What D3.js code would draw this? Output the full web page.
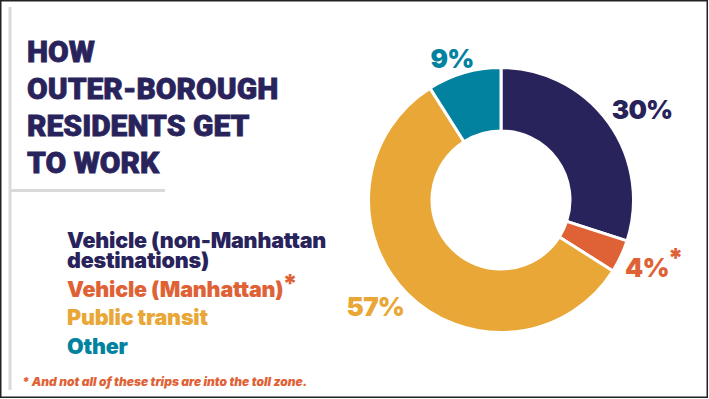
<!DOCTYPE html>
<html>
<head>
<meta charset="utf-8">
<script src="https://cdn.jsdelivr.net/npm/d3@7"></script>
<style>
  body { margin: 0; background: #fff; }
  svg { display: block; }
</style>
</head>
<body>
<script>
// Data
var categories = ["Vehicle (non-Manhattan destinations)", "Vehicle (Manhattan)", "Public transit", "Other"];
var shares = [30, 4, 57, 9];
var labelTexts = ["30%", "4%", "57%", "9%"];
var legendLines = [["Vehicle (non-Manhattan", "destinations)"], ["Vehicle (Manhattan)"], ["Public transit"], ["Other"]];
var titleLines = ["HOW", "OUTER-BOROUGH", "RESIDENTS GET", "TO WORK"];
var footnote = "* And not all of these trips are into the toll zone.";

var colors = ["#29235c", "#df6236", "#e8a736", "#02829f"];
var width = 709, height = 399;
var bodyFont = "Inter, 'Open Sans', sans-serif";

var svg = d3.select("body").append("svg")
    .attr("width", width)
    .attr("height", height);

// frame
svg.append("rect")
    .attr("x", 0.75).attr("y", 0.75)
    .attr("width", width - 2.5).attr("height", height - 2.5)
    .attr("fill", "#fff")
    .attr("stroke", "#222")
    .attr("stroke-width", 1.5);

// grey rules
svg.append("line")
    .attr("x1", 10).attr("y1", 7).attr("x2", 10).attr("y2", 390)
    .attr("stroke", "#d9d9d9").attr("stroke-width", 3);
svg.append("line")
    .attr("x1", 10).attr("y1", 190.5).attr("x2", 165).attr("y2", 190.5)
    .attr("stroke", "#d9d9d9").attr("stroke-width", 3);

// Title
svg.append("g").selectAll("text")
    .data(titleLines)
    .enter().append("text")
    .attr("x", 27)
    .attr("y", function(d, i) { return 62 + i * 37; })
    .attr("fill", "#29235c")
    .attr("stroke", "#29235c")
    .attr("stroke-width", 0.8)
    .style("font-family", "Roboto, 'Liberation Sans', sans-serif")
    .style("font-weight", 900)
    .style("font-size", "30px")
    .text(function(d) { return d; });

// Legend
var legendY = [248, 297, 325, 354];
var legend = svg.append("g").attr("class", "legend");
legendLines.forEach(function(lines, i) {
    var t = legend.append("text")
        .attr("x", 67)
        .attr("y", legendY[i])
        .attr("fill", colors[i])
        .style("font-family", bodyFont)
        .style("font-weight", 900)
        .style("font-size", "21.5px")
        .style("letter-spacing", "-0.2px");
    lines.forEach(function(l, j) {
        t.append("tspan")
            .attr("x", 67)
            .attr("dy", j === 0 ? 0 : 20)
            .text(l);
    });
    if (i === 1) {
        t.append("tspan")
            .attr("dx", -1)
            .attr("dy", -5)
            .style("font-size", "25px")
            .text("*");
    }
});

// footnote
svg.append("text")
    .attr("x", 22)
    .attr("y", 386)
    .attr("fill", "#df6236")
    .style("font-family", bodyFont)
    .style("font-weight", 900)
    .style("font-style", "italic")
    .style("font-size", "12px")
    .text(footnote);

// Donut
var cx = 501, cy = 200, outerR = 132.5, innerR = 69;

var pie = d3.pie().sort(null).value(function(d) { return d; });
var arcs = pie(shares);
var arc = d3.arc().innerRadius(innerR).outerRadius(outerR);

var donut = svg.append("g")
    .attr("transform", "translate(" + cx + "," + cy + ")");

donut.selectAll("path")
    .data(arcs)
    .enter().append("path")
    .attr("d", arc)
    .attr("fill", function(d, i) { return colors[i]; })
    .attr("stroke", "#fff")
    .attr("stroke-width", 3);

// Percent labels: the corner nearest the ring sits on the slice middle line
var labelR = 137, capH = 19;
donut.selectAll(".pct")
    .data(arcs)
    .enter().append("text")
    .attr("class", "pct")
    .attr("fill", function(d, i) { return colors[i]; })
    .style("font-family", bodyFont)
    .style("font-weight", 900)
    .style("font-size", "26px")
    .style("letter-spacing", "-0.8px")
    .text(function(d, i) { return labelTexts[i]; })
    .each(function(d, i) {
        var el = d3.select(this);
        var w = this.getComputedTextLength();
        var a = (d.startAngle + d.endAngle) / 2;
        var s = Math.sin(a), c = -Math.cos(a);
        // labels close to the top hang a bit to the right of the line
        var x = labelR * s + (Math.abs(s) < 0.4 ? w / 4 : 0),
            y = c < 0 ? labelR * c : labelR * c + capH;
        el.attr("x", x)
            .attr("y", y)
            .attr("text-anchor", s >= 0 ? "start" : "end");
        if (i === 1) {
            el.append("tspan")
                .attr("dx", -1)
                .attr("dy", -10)
                .style("letter-spacing", "0px")
                .text("*");
        }
    });
</script>
</body>
</html>
